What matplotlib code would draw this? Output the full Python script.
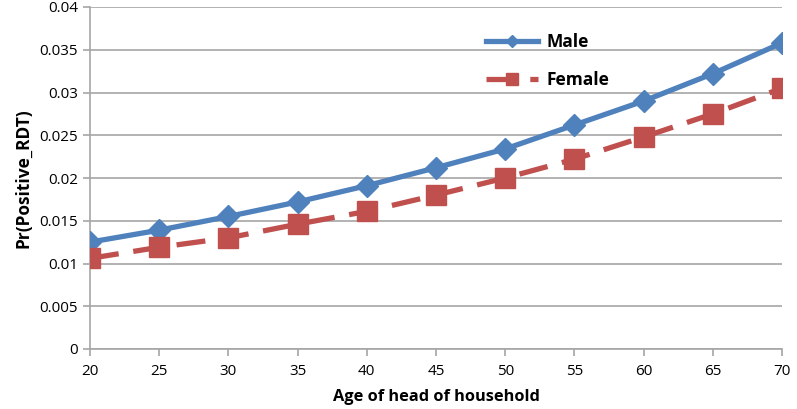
import matplotlib.pyplot as plt
import numpy as np

ages = [20, 25, 30, 35, 40, 45, 50, 55, 60, 65, 70]
male = [0.0125, 0.0139, 0.0155, 0.0172, 0.0191, 0.0212, 0.0234, 0.0262, 0.0290, 0.0322, 0.0358]
female = [0.0106, 0.0119, 0.0130, 0.0146, 0.0161, 0.0180, 0.0200, 0.0222, 0.0248, 0.0275, 0.0305]

plt.rcParams['font.family'] = ['Open Sans', 'DejaVu Sans']

fig = plt.figure(figsize=(7.97, 4.09), dpi=100)
ax = fig.add_axes([90/797, 60/409, 692/797, 342/409])

ax.plot(ages, male, color='#4F81BD', linewidth=3.8, marker='D', markersize=11,
        label='Male', zorder=3)
ax.plot(ages, female, color='#C0504D', linewidth=3.8, linestyle=(0, (5.5, 2.8)),
        marker='s', markersize=15, label='Female', zorder=3)

ax.set_xlim(20, 70)
ax.set_ylim(0, 0.04)
ax.set_xticks(np.arange(20, 71, 5))
ax.set_yticks(np.arange(0, 0.0401, 0.005))
ax.set_yticklabels(['0', '0.005', '0.01', '0.015', '0.02', '0.025', '0.03', '0.035', '0.04'])
ax.grid(axis='y', color='#a6a6a6', linewidth=1.2)
ax.set_axisbelow(True)
for s in ['top', 'right']:
    ax.spines[s].set_visible(False)
for s in ['left', 'bottom']:
    ax.spines[s].set_color('#a6a6a6')
    ax.spines[s].set_linewidth(1.2)
ax.tick_params(axis='both', colors='#a6a6a6', labelcolor='black', labelsize=11, length=5, width=1.2)
ax.tick_params(axis='x', pad=6)

ax.set_xlabel('Age of head of household', fontsize=11.8, fontweight='bold', labelpad=7)
ax.set_ylabel('Pr(Positive_RDT)', fontsize=12.5, fontweight='bold', labelpad=5)

leg = ax.legend(loc='upper left', bbox_to_anchor=(0.55, 0.97), frameon=False,
                prop={'weight': 'bold', 'size': 12.5}, handlelength=3.0, labelspacing=1.15,
                handletextpad=0.5, markerscale=0.6)

fig.savefig('out.png', dpi=100)
